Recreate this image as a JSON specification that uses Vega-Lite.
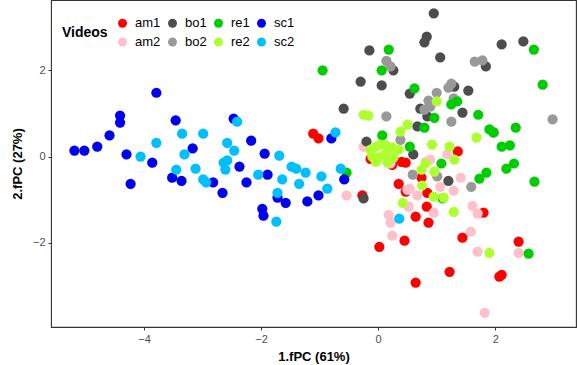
{
  "$schema": "https://vega.github.io/schema/vega-lite/v6.json",
  "width": 525,
  "height": 327,
  "autosize": "none",
  "padding": {"left": 51, "top": 0, "right": 3, "bottom": 38},
  "config": {
    "font": "Liberation Sans",
    "view": {"stroke": "#333333", "strokeWidth": 1.1},
    "background": "white"
  },
  "data": {
    "values": [
      {"v":"am1","x":-1.11,"y":0.53},{"v":"am1","x":-1.02,"y":0.42},{"v":"am1","x":-0.27,"y":-0.90},{"v":"am1","x":0.02,"y":-2.09},
      {"v":"am1","x":0.35,"y":-0.63},{"v":"am1","x":0.47,"y":-0.81},{"v":"am1","x":0.83,"y":-1.16},{"v":"am1","x":0.64,"y":-1.39},
      {"v":"am1","x":0.86,"y":-1.53},{"v":"am1","x":0.45,"y":-1.95},{"v":"am1","x":1.44,"y":-1.88},{"v":"am1","x":1.80,"y":-1.30},
      {"v":"am1","x":2.40,"y":-1.97},{"v":"am1","x":1.22,"y":-2.67},{"v":"am1","x":2.07,"y":-2.78},{"v":"am1","x":2.11,"y":-2.74},
      {"v":"am1","x":0.64,"y":-2.92},{"v":"am1","x":1.36,"y":0.12},{"v":"am1","x":0.40,"y":-0.12},{"v":"am1","x":0.47,"y":-0.14},
      {"v":"am1","x":0.84,"y":-0.84},{"v":"am1","x":0.74,"y":-0.49},{"v":"am1","x":-0.13,"y":-0.05},{"v":"am1","x":0.24,"y":-0.19},
      {"v":"am2","x":-0.54,"y":-0.90},{"v":"am2","x":-0.25,"y":0.23},{"v":"am2","x":0.21,"y":-0.16},{"v":"am2","x":1.18,"y":0.05},
      {"v":"am2","x":0.81,"y":-0.12},{"v":"am2","x":0.54,"y":-0.74},{"v":"am2","x":0.67,"y":-0.90},{"v":"am2","x":1.06,"y":-0.70},
      {"v":"am2","x":1.29,"y":-0.79},{"v":"am2","x":1.61,"y":-1.14},{"v":"am2","x":1.70,"y":-1.32},{"v":"am2","x":0.18,"y":-1.35},
      {"v":"am2","x":0.21,"y":-1.53},{"v":"am2","x":0.24,"y":-1.83},{"v":"am2","x":0.52,"y":-1.16},{"v":"am2","x":0.50,"y":-0.77},
      {"v":"am2","x":0.95,"y":-1.30},{"v":"am2","x":1.58,"y":-1.74},{"v":"am2","x":1.70,"y":-2.20},{"v":"am2","x":2.40,"y":-2.23},
      {"v":"am2","x":1.82,"y":-3.62},{"v":"am2","x":0.89,"y":-0.07},{"v":"am2","x":1.41,"y":-0.49},
      {"v":"bo1","x":0.95,"y":3.32},{"v":"bo1","x":0.83,"y":2.78},{"v":"bo1","x":0.79,"y":2.65},{"v":"bo1","x":-0.15,"y":2.46},
      {"v":"bo1","x":1.06,"y":2.30},{"v":"bo1","x":2.11,"y":2.60},{"v":"bo1","x":2.48,"y":2.67},{"v":"bo1","x":1.84,"y":2.09},
      {"v":"bo1","x":0.26,"y":2.00},{"v":"bo1","x":-0.30,"y":1.74},{"v":"bo1","x":0.06,"y":1.65},{"v":"bo1","x":0.54,"y":1.46},
      {"v":"bo1","x":1.54,"y":1.53},{"v":"bo1","x":1.30,"y":1.62},{"v":"bo1","x":-0.59,"y":1.11},{"v":"bo1","x":1.44,"y":1.02},
      {"v":"bo1","x":0.72,"y":1.11},{"v":"bo1","x":0.84,"y":0.93},{"v":"bo1","x":0.67,"y":0.70},{"v":"bo1","x":-0.20,"y":0.35},
      {"v":"bo1","x":-0.25,"y":-0.97},{"v":"bo1","x":0.60,"y":0.05},{"v":"bo1","x":1.20,"y":-0.56},{"v":"bo1","x":1.97,"y":0.56},
      {"v":"bo2","x":0.14,"y":2.22},{"v":"bo2","x":0.21,"y":2.09},{"v":"bo2","x":1.65,"y":2.20},{"v":"bo2","x":1.78,"y":2.23},
      {"v":"bo2","x":1.25,"y":1.69},{"v":"bo2","x":1.20,"y":1.60},{"v":"bo2","x":1.00,"y":1.48},{"v":"bo2","x":0.86,"y":1.30},
      {"v":"bo2","x":0.79,"y":1.09},{"v":"bo2","x":0.89,"y":1.16},{"v":"bo2","x":1.29,"y":1.35},{"v":"bo2","x":0.14,"y":0.93},
      {"v":"bo2","x":1.25,"y":0.81},{"v":"bo2","x":2.98,"y":0.86},{"v":"bo2","x":0.59,"y":-0.42},{"v":"bo2","x":1.01,"y":-0.46},
      {"v":"bo2","x":1.59,"y":-0.70},{"v":"bo2","x":0.38,"y":0.39},
      {"v":"re1","x":0.18,"y":2.48},{"v":"re1","x":-0.95,"y":2.00},{"v":"re1","x":0.06,"y":2.00},{"v":"re1","x":2.66,"y":2.48},
      {"v":"re1","x":2.81,"y":1.67},{"v":"re1","x":0.62,"y":1.58},{"v":"re1","x":1.25,"y":1.21},{"v":"re1","x":1.35,"y":1.28},
      {"v":"re1","x":1.71,"y":0.97},{"v":"re1","x":0.96,"y":0.90},{"v":"re1","x":1.90,"y":0.63},{"v":"re1","x":2.35,"y":0.67},
      {"v":"re1","x":0.79,"y":0.67},{"v":"re1","x":0.07,"y":0.49},{"v":"re1","x":0.54,"y":0.23},{"v":"re1","x":1.08,"y":-0.16},
      {"v":"re1","x":1.10,"y":-0.97},{"v":"re1","x":-0.54,"y":-0.37},{"v":"re1","x":1.97,"y":0.56},{"v":"re1","x":2.11,"y":0.23},
      {"v":"re1","x":2.25,"y":0.26},{"v":"re1","x":2.32,"y":-0.16},{"v":"re1","x":2.19,"y":-0.28},{"v":"re1","x":1.85,"y":-0.37},
      {"v":"re1","x":1.73,"y":-0.51},{"v":"re1","x":2.67,"y":-0.58},{"v":"re1","x":2.57,"y":-2.25},
      {"v":"re2","x":1.00,"y":1.28},{"v":"re2","x":-0.25,"y":0.97},{"v":"re2","x":-0.17,"y":0.95},{"v":"re2","x":0.50,"y":0.74},
      {"v":"re2","x":0.38,"y":0.58},{"v":"re2","x":1.68,"y":0.44},{"v":"re2","x":0.92,"y":0.28},{"v":"re2","x":1.22,"y":0.23},
      {"v":"re2","x":1.30,"y":-0.07},{"v":"re2","x":-0.13,"y":0.16},{"v":"re2","x":-0.04,"y":0.23},{"v":"re2","x":0.04,"y":0.28},
      {"v":"re2","x":0.14,"y":0.26},{"v":"re2","x":0.24,"y":0.21},{"v":"re2","x":-0.10,"y":0.00},{"v":"re2","x":0.01,"y":-0.02},
      {"v":"re2","x":0.12,"y":0.05},{"v":"re2","x":0.26,"y":-0.02},{"v":"re2","x":0.35,"y":0.16},{"v":"re2","x":-0.04,"y":-0.12},
      {"v":"re2","x":0.16,"y":-0.14},{"v":"re2","x":0.81,"y":-0.16},{"v":"re2","x":0.74,"y":-0.30},{"v":"re2","x":0.96,"y":-0.35},
      {"v":"re2","x":0.75,"y":-0.67},{"v":"re2","x":0.95,"y":-0.93},{"v":"re2","x":1.12,"y":-0.95},{"v":"re2","x":0.42,"y":-1.07},
      {"v":"re2","x":1.29,"y":-1.28},{"v":"re2","x":1.90,"y":-2.23},
      {"v":"sc1","x":-5.19,"y":0.14},{"v":"sc1","x":-5.02,"y":0.14},{"v":"sc1","x":-4.80,"y":0.23},{"v":"sc1","x":-4.59,"y":0.49},
      {"v":"sc1","x":-4.41,"y":0.95},{"v":"sc1","x":-4.41,"y":0.79},{"v":"sc1","x":-4.30,"y":0.05},{"v":"sc1","x":-4.23,"y":-0.63},
      {"v":"sc1","x":-3.86,"y":-0.14},{"v":"sc1","x":-3.79,"y":1.48},{"v":"sc1","x":-3.46,"y":0.84},{"v":"sc1","x":-3.17,"y":0.19},
      {"v":"sc1","x":-3.52,"y":-0.49},{"v":"sc1","x":-3.36,"y":-0.56},{"v":"sc1","x":-2.82,"y":-0.60},{"v":"sc1","x":-2.66,"y":-0.84},
      {"v":"sc1","x":-2.47,"y":0.88},{"v":"sc1","x":-2.37,"y":-0.23},{"v":"sc1","x":-2.25,"y":-0.60},{"v":"sc1","x":-2.17,"y":0.37},
      {"v":"sc1","x":-1.94,"y":0.07},{"v":"sc1","x":-1.89,"y":-0.42},{"v":"sc1","x":-1.72,"y":-0.95},{"v":"sc1","x":-1.58,"y":-1.07},
      {"v":"sc1","x":-1.98,"y":-1.21},{"v":"sc1","x":-1.96,"y":-1.37},{"v":"sc1","x":-1.21,"y":-1.04},{"v":"sc1","x":-1.02,"y":-0.90},
      {"v":"sc1","x":-0.80,"y":0.42},{"v":"sc1","x":-0.58,"y":-0.53},
      {"v":"sc2","x":-4.06,"y":0.00},{"v":"sc2","x":-3.79,"y":0.32},{"v":"sc2","x":-3.35,"y":0.53},{"v":"sc2","x":-2.99,"y":0.53},
      {"v":"sc2","x":-3.31,"y":0.05},{"v":"sc2","x":-3.45,"y":-0.30},{"v":"sc2","x":-3.12,"y":-0.28},{"v":"sc2","x":-2.99,"y":-0.53},
      {"v":"sc2","x":-2.94,"y":-0.60},{"v":"sc2","x":-2.58,"y":0.32},{"v":"sc2","x":-2.46,"y":0.14},{"v":"sc2","x":-2.64,"y":-0.14},
      {"v":"sc2","x":-2.58,"y":-0.09},{"v":"sc2","x":-2.61,"y":-0.30},{"v":"sc2","x":-2.41,"y":0.81},{"v":"sc2","x":-1.69,"y":0.02},
      {"v":"sc2","x":-1.48,"y":-0.23},{"v":"sc2","x":-1.40,"y":-0.28},{"v":"sc2","x":-1.24,"y":-0.37},{"v":"sc2","x":-2.05,"y":-0.42},
      {"v":"sc2","x":-1.64,"y":-0.53},{"v":"sc2","x":-1.35,"y":-0.63},{"v":"sc2","x":-0.97,"y":-0.46},{"v":"sc2","x":-0.87,"y":-0.74},
      {"v":"sc2","x":-1.72,"y":-0.84},{"v":"sc2","x":-1.74,"y":-1.51},{"v":"sc2","x":-0.73,"y":0.56},{"v":"sc2","x":-0.64,"y":-0.28},
      {"v":"sc2","x":0.36,"y":-1.44}
    ]
  },
  "mark": {"type": "point", "filled": true, "opacity": 1, "size": 105, "shape": "circle"},
  "encoding": {
    "x": {
      "field": "x", "type": "quantitative",
      "scale": {"domain": [-5.59, 3.38], "nice": false, "zero": false},
      "axis": {
        "title": "1.fPC (61%)", "values": [-4, -2, 0, 2], "grid": false, "domain": false,
        "titleFontSize": 13, "titleFontWeight": "bold", "titleColor": "black", "titlePadding": 6,
        "labelFontSize": 11, "labelColor": "#4D4D4D", "labelPadding": 3,
        "tickColor": "#333333", "tickSize": 3
      }
    },
    "y": {
      "field": "y", "type": "quantitative",
      "scale": {"domain": [-3.95, 3.63], "nice": false, "zero": false},
      "axis": {
        "title": "2.fPC (27%)", "values": [-2, 0, 2], "grid": false, "domain": false,
        "titleFontSize": 13, "titleFontWeight": "bold", "titleColor": "black", "titlePadding": 8,
        "labelFontSize": 11, "labelColor": "#4D4D4D", "labelPadding": 3,
        "tickColor": "#333333", "tickSize": 3
      }
    },
    "color": {
      "field": "v", "type": "nominal",
      "scale": {
        "domain": ["am1", "bo1", "re1", "sc1", "am2", "bo2", "re2", "sc2"],
        "range": ["#FF0000", "#4D4D4D", "#00CD00", "#0000EE", "#FFC0CB", "#999999", "#ADFF2F", "#00BFFF"]
      },
      "legend": {
        "title": "Videos", "orient": "none", "legendX": 11, "legendY": 16.5,
        "columns": 4, "direction": "horizontal",
        "titleOrient": "left", "titleAnchor": "middle", "titleBaseline": "middle", "titleFontSize": 14, "titleFontWeight": "bold", "titleColor": "black", "titlePadding": 8,
        "labelFontSize": 13, "labelColor": "black", "labelOffset": 6,
        "symbolType": "circle", "symbolSize": 80, "symbolStrokeWidth": 0,
        "columnPadding": 5, "rowPadding": 5
      }
    }
  }
}
